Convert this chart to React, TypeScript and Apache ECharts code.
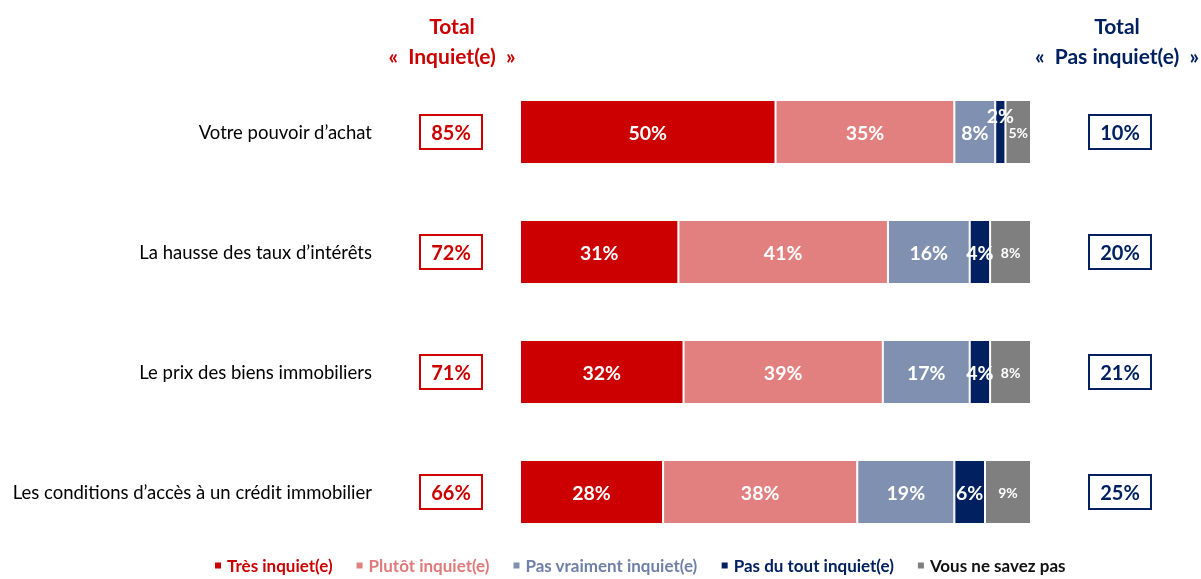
import React, { useEffect, useRef } from "react";
import * as echarts from "echarts";

const categories = [
  "Votre pouvoir d’achat",
  "La hausse des taux d’intérêts",
  "Le prix des biens immobiliers",
  "Les conditions d’accès à un crédit immobilier",
];
const seriesNames = [
  "Très inquiet(e)",
  "Plutôt inquiet(e)",
  "Pas vraiment inquiet(e)",
  "Pas du tout inquiet(e)",
  "Vous ne savez pas",
];
const tresInquiet = [50, 31, 32, 28];
const plutotInquiet = [35, 41, 39, 38];
const pasVraiment = [8, 16, 17, 19];
const pasDuTout = [2, 4, 4, 6];
const nsp = [5, 8, 8, 9];
const totalInquiet = [85, 72, 71, 66];
const totalPasInquiet = [10, 20, 21, 25];

const colors = ["#CC0000", "#E28080", "#7F90B0", "#002060", "#7F7F7F"];
const legendTextColors = ["#CC0000", "#E07A7A", "#6F80A8", "#002060", "#111111"];
const FONT = "Lato, 'Open Sans', sans-serif";

export default function App() {
  const ref = useRef<HTMLDivElement>(null);
  useEffect(() => {
    if (!ref.current) return;
    const chart = echarts.init(ref.current, null, { renderer: "svg" });
    const allData = [tresInquiet, plutotInquiet, pasVraiment, pasDuTout, nsp];
    const series = allData.map((arr, i) => ({
      name: seriesNames[i],
      type: "bar",
      stack: "total",
      barWidth: 64,
      itemStyle: { color: colors[i], borderColor: "#ffffff", borderWidth: 1 },
      label: {
        show: true,
        position: "inside",
        color: "#ffffff",
        fontFamily: FONT,
        fontWeight: "bold",
        fontSize: i === 4 ? 14 : 19.5,
        formatter: "{c}%",
      },
      data: arr.map((v, j) =>
        i === 3 && j === 0 ? { value: v, label: { offset: [0, -17] } } : v
      ),
    }));
    const boxRich = (color: string) => ({
      b: {
        borderColor: color,
        borderWidth: 2,
        width: 62,
        height: 34,
        align: "center",
        color,
        fontWeight: "bold",
        fontSize: 20,
        fontFamily: FONT,
      },
    });
    chart.setOption({
      animation: false,
      textStyle: { fontFamily: FONT },
      grid: { left: 520, right: 170, top: 72, bottom: 27, containLabel: false },
      xAxis: { type: "value", min: 0, max: 100, show: false },
      yAxis: [
        {
          type: "category",
          data: categories,
          inverse: true,
          axisLine: { show: false },
          axisTick: { show: false },
          axisLabel: {
            margin: 148,
            fontSize: 18.5,
            color: "#000000",
            fontFamily: FONT,
            padding: [0, 0, 8, 0],
          },
        },
        {
          type: "category",
          data: totalInquiet.map((v) => v + "%"),
          inverse: true,
          position: "left",
          offset: 38,
          axisLine: { show: false },
          axisTick: { show: false },
          axisLabel: {
            margin: 0,
            formatter: (v: string) => "{b|" + v + "}",
            rich: boxRich("#CC0000"),
          },
        },
        {
          type: "category",
          data: totalPasInquiet.map((v) => v + "%"),
          inverse: true,
          position: "right",
          axisLine: { show: false },
          axisTick: { show: false },
          axisLabel: {
            margin: 58,
            formatter: (v: string) => "{b|" + v + "}",
            rich: boxRich("#002060"),
          },
        },
      ],
      legend: {
        bottom: 0,
        left: 208,
        icon: "rect",
        itemWidth: 8,
        itemHeight: 8,
        itemGap: 22,
        data: seriesNames.map((n, i) => ({
          name: n,
          textStyle: {
            color: legendTextColors[i],
            fontWeight: "bold",
            fontSize: 17,
            fontFamily: FONT,
          },
        })),
      },
      graphic: [
        {
          type: "text",
          x: 452,
          y: 10,
          style: {
            text: "Total\n«  Inquiet(e)  »",
            fill: "#CC0000",
            font: "bold 21px " + FONT,
            align: "center",
            textAlign: "center",
            lineHeight: 30,
          },
        },
        {
          type: "text",
          x: 1117,
          y: 10,
          style: {
            text: "Total\n«  Pas inquiet(e)  »",
            fill: "#002060",
            font: "bold 21px " + FONT,
            align: "center",
            textAlign: "center",
            lineHeight: 30,
          },
        },
      ],
      series,
    });
    return () => chart.dispose();
  }, []);
  return (
    <div
      ref={ref}
      style={{ position: "fixed", left: 0, top: 0, width: 1201, height: 579 }}
    />
  );
}
